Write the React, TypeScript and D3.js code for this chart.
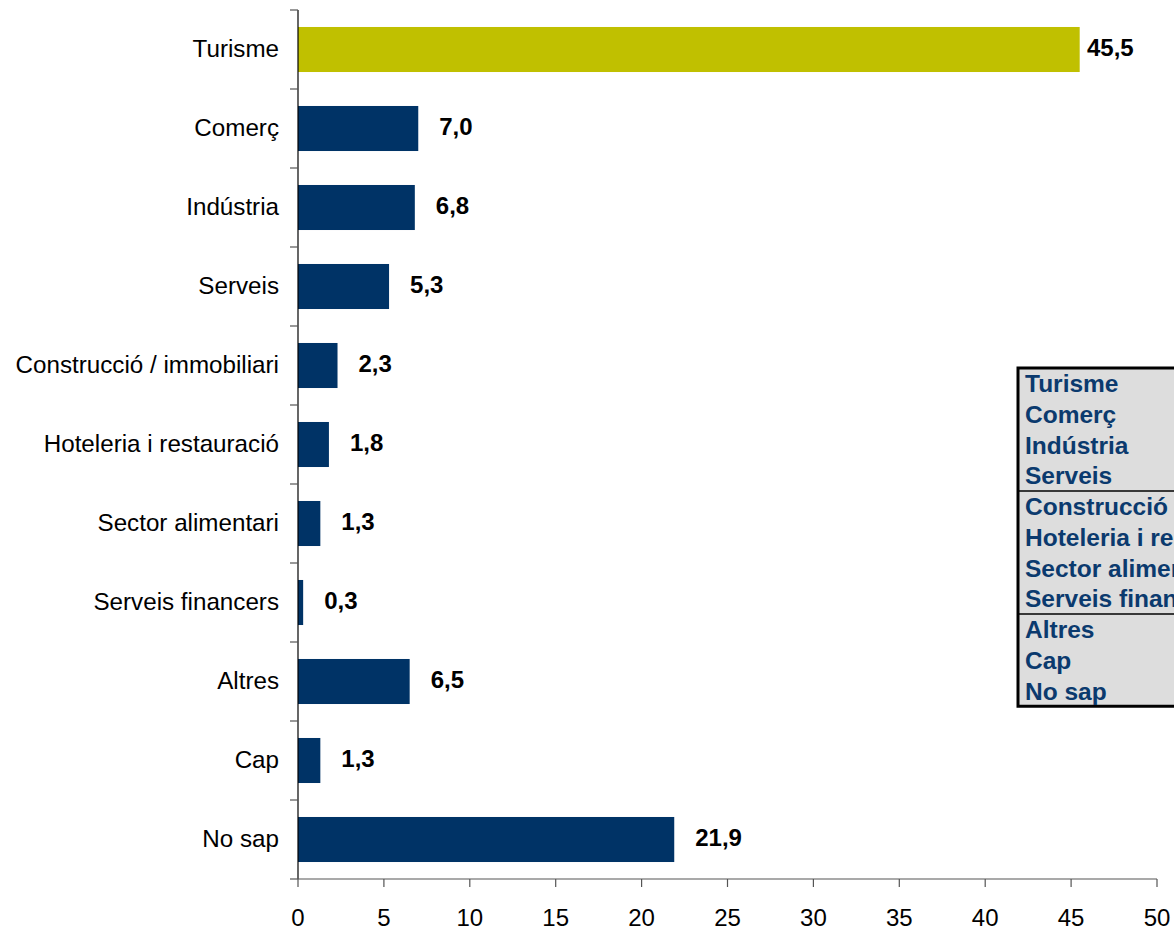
import React from "react";
import * as d3 from "d3";

const categories = [
  "Turisme",
  "Comerç",
  "Indústria",
  "Serveis",
  "Construcció / immobiliari",
  "Hoteleria i restauració",
  "Sector alimentari",
  "Serveis financers",
  "Altres",
  "Cap",
  "No sap",
];
const values = [45.5, 7.0, 6.8, 5.3, 2.3, 1.8, 1.3, 0.3, 6.5, 1.3, 21.9];
const highlighted = ["Turisme"];
const xTicks = [0, 5, 10, 15, 20, 25, 30, 35, 40, 45, 50];
const legendItems = [
  "Turisme",
  "Comerç",
  "Indústria",
  "Serveis",
  "Construcció / immobiliari",
  "Hoteleria i restauració",
  "Sector alimentari",
  "Serveis financers",
  "Altres",
  "Cap",
  "No sap",
];
const legendSeparators = [4, 8];

const W = 1174;
const H = 930;
const FONT = "'Liberation Sans', Arial, Helvetica, sans-serif";

export default function App() {
  const x = d3.scaleLinear().domain([0, 50]).range([298, 1157]);
  const y = d3.scaleBand<string>().domain(categories).range([10, 879]).padding(0);
  const step = y.step();
  const barH = step * 0.57;
  const fmt = (v: number) => v.toFixed(1).replace(".", ",");

  const legendX = 1018;
  const legendTop = 368;
  const rowH = 30.75;
  const legendH = rowH * legendItems.length;

  const boundaries = d3.range(categories.length + 1).map((i) => 10 + i * step);

  return (
    <svg
      width={W}
      height={H}
      style={{ position: "absolute", left: 0, top: 0, background: "#fff" }}
      fontFamily={FONT}
    >
      {/* bars */}
      {categories.map((c, i) => {
        const yc = (y(c) as number) + step / 2;
        return (
          <rect
            key={c}
            x={x(0)}
            y={yc - barH / 2}
            width={x(values[i]) - x(0)}
            height={barH}
            fill={highlighted.includes(c) ? "#c0c000" : "#003366"}
          />
        );
      })}

      {/* y axis */}
      <line x1={298} x2={298} y1={10} y2={879} stroke="#000" strokeWidth={1.2} />
      {boundaries.map((b, i) => (
        <line key={i} x1={290} x2={298} y1={b} y2={b} stroke="#555" strokeWidth={1.2} />
      ))}
      {categories.map((c) => {
        const yc = (y(c) as number) + step / 2;
        return (
          <text key={c} x={279} y={yc + 7.5} textAnchor="end" fontSize={24.2} fill="#000">
            {c}
          </text>
        );
      })}

      {/* x axis */}
      <line x1={298} x2={x(50)} y1={879} y2={879} stroke="#555" strokeWidth={1.2} />
      {xTicks.map((t) => (
        <g key={t}>
          <line x1={x(t)} x2={x(t)} y1={879} y2={887} stroke="#555" strokeWidth={1.2} />
          <text x={x(t)} y={926} textAnchor="middle" fontSize={24} fill="#000">
            {t}
          </text>
        </g>
      ))}

      {/* value labels */}
      {categories.map((c, i) => {
        const yc = (y(c) as number) + step / 2;
        const lx = Math.min(x(values[i]) + 21, 1087);
        return (
          <text
            key={c}
            x={lx}
            y={yc + 6.5}
            fontSize={24}
            fontWeight="bold"
            fill="#000"
          >
            {fmt(values[i])}
          </text>
        );
      })}

      {/* legend box */}
      <rect
        x={legendX}
        y={legendTop}
        width={300}
        height={legendH}
        fill="#dddddd"
        stroke="#000"
        strokeWidth={3}
      />
      {legendSeparators.map((s) => (
        <line
          key={s}
          x1={legendX}
          x2={W}
          y1={legendTop + s * rowH}
          y2={legendTop + s * rowH}
          stroke="#000"
          strokeWidth={1.5}
        />
      ))}
      {legendItems.map((t, i) => (
        <text
          key={t}
          x={1025}
          y={legendTop + i * rowH + 24}
          fontSize={24.5}
          fontWeight="bold"
          fill="#0b3a6e"
        >
          {t}
        </text>
      ))}
    </svg>
  );
}
